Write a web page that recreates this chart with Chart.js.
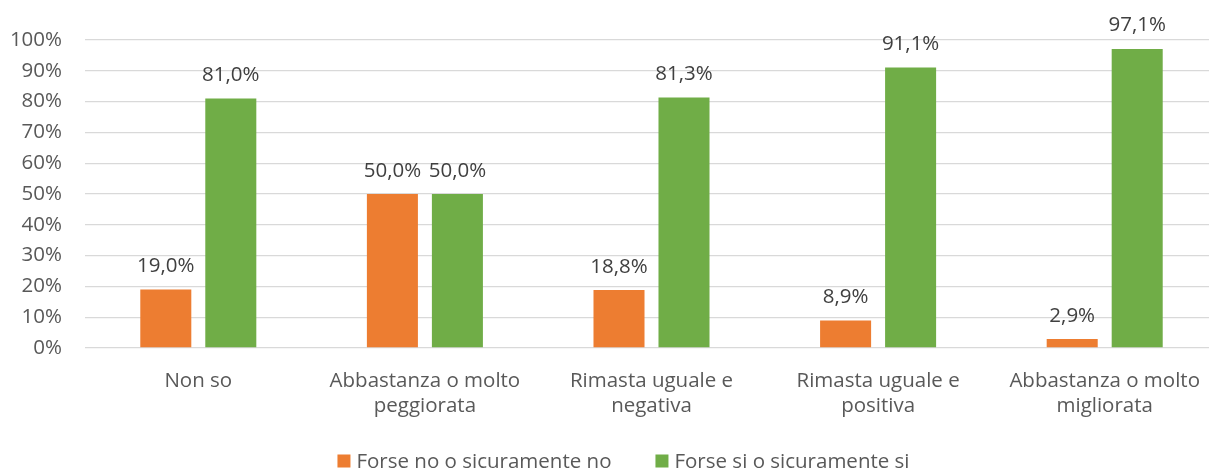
<!DOCTYPE html>
<html lang="it">
<head>
<meta charset="utf-8">
<title>Forse no / Forse si</title>
<script src="https://cdn.jsdelivr.net/npm/chart.js@4/dist/chart.umd.min.js"></script>
<style>
  html, body { margin: 0; padding: 0; background: #fff; overflow: hidden; }
  .chart-wrap { position: relative; width: 1247px; height: 471px; }
</style>
</head>
<body>
<div class="chart-wrap"><canvas id="barChart"></canvas></div>
<script>
/* ── DATA ──────────────────────────────────────────────────── */
const categories = [
  'Non so',
  ['Abbastanza o molto', 'peggiorata'],
  ['Rimasta uguale e', 'negativa'],
  ['Rimasta uguale e', 'positiva'],
  ['Abbastanza o molto', 'migliorata']
];
const seriesNames = ['Forse no o sicuramente no', 'Forse si o sicuramente si'];
const forseNo = [19.0, 50.0, 18.8, 8.9, 2.9];
const forseSi = [81.0, 50.0, 81.3, 91.1, 97.1];
const yTicks  = [0, 10, 20, 30, 40, 50, 60, 70, 80, 90, 100];

const FONT   = '"Open Sans", sans-serif';
const SIZE   = 20.5;
const ORANGE = '#ED7D31';
const GREEN  = '#70AD47';

/* ── PLUGINS ───────────────────────────────────────────────── */
// value labels above each bar, "81,0%" style
const valueLabels = {
  id: 'valueLabels',
  afterDatasetsDraw(chart) {
    const ctx = chart.ctx;
    ctx.save();
    ctx.font = SIZE + 'px ' + FONT;
    ctx.fillStyle = '#404040';
    ctx.textAlign = 'center';
    ctx.textBaseline = 'alphabetic';
    chart.data.datasets.forEach((ds, i) => {
      chart.getDatasetMeta(i).data.forEach((bar, j) => {
        const txt = ds.data[j].toFixed(1).replace('.', ',') + '%';
        ctx.fillText(txt, bar.x, bar.y - 17.5);
      });
    });
    ctx.restore();
  }
};

// legend row under the axis labels
const bottomLegend = {
  id: 'bottomLegend',
  afterDraw(chart) {
    const ctx = chart.ctx;
    const box = 13, textGap = 6, itemGap = 44;
    const y = chart.height - 10;
    ctx.save();
    ctx.font = SIZE + 'px ' + FONT;
    const items = chart.data.datasets.map(ds => ({
      label: ds.label, color: ds.backgroundColor,
      w: box + textGap + ctx.measureText(ds.label).width
    }));
    const total = items.reduce((s, it) => s + it.w, 0) + itemGap * (items.length - 1);
    let x = chart.width / 2 - total / 2;
    ctx.textBaseline = 'middle';
    ctx.textAlign = 'left';
    items.forEach(it => {
      ctx.fillStyle = it.color;
      ctx.fillRect(x, y - box / 2, box, box);
      ctx.fillStyle = '#595959';
      ctx.fillText(it.label, x + box + textGap, y + 1);
      x += it.w + itemGap;
    });
    ctx.restore();
  }
};

/* ── CHART ─────────────────────────────────────────────────── */
new Chart(document.getElementById('barChart'), {
  type: 'bar',
  data: {
    labels: categories,
    datasets: [
      { label: seriesNames[0], data: forseNo, backgroundColor: ORANGE },
      { label: seriesNames[1], data: forseSi, backgroundColor: GREEN }
    ]
  },
  options: {
    responsive: true, maintainAspectRatio: false, animation: false,
    layout: { padding: { top: 40, right: 29, bottom: 28, left: 0 } },
    plugins: { legend: { display: false }, tooltip: { enabled: false } },
    datasets: { bar: { categoryPercentage: 0.5737, barPercentage: 0.785 } },
    scales: {
      x: {
        grid: { display: false },
        border: { display: false },
        ticks: {
          color: '#595959', padding: 12, maxRotation: 0, autoSkip: false,
          font: { family: FONT, size: SIZE, lineHeight: 1.25 }
        },
        afterFit(scale) { scale.height = 95; }
      },
      y: {
        min: 0, max: 100,
        afterBuildTicks(scale) { scale.ticks = yTicks.map(v => ({ value: v })); },
        grid: { color: '#D9D9D9', lineWidth: 1.3, drawTicks: false },
        border: { display: false },
        ticks: {
          color: '#595959', padding: 23,
          font: { family: FONT, size: SIZE },
          callback: v => v + '%'
        },
        afterFit(scale) { scale.width = 85; }
      }
    }
  },
  plugins: [valueLabels, bottomLegend]
});
</script>
</body>
</html>
